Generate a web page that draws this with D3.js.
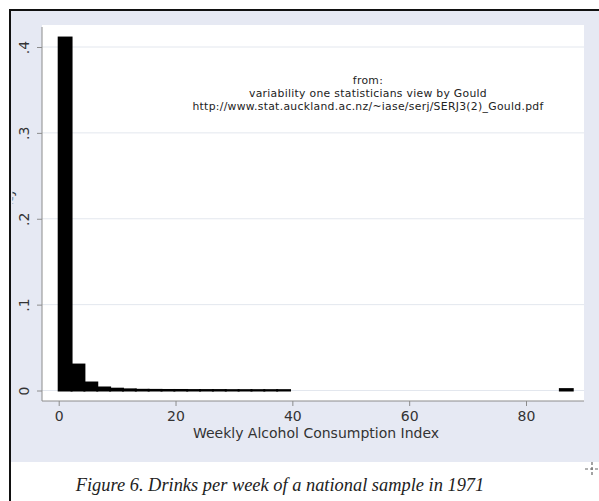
<!DOCTYPE html>
<html>
<head>
<meta charset="utf-8">
<script src="https://cdn.jsdelivr.net/npm/d3@7"></script>
<style>
  html, body { margin: 0; padding: 0; background: #ffffff; }
  svg { display: block; }
</style>
</head>
<body>
<script>
// ---- data ----
const binStarts = [0, 2.2, 4.4, 6.6, 8.8, 11.0, 13.2, 15.4, 17.6, 19.8, 22.0, 24.2, 26.4, 28.6, 30.8, 33.0, 35.2, 37.4, 85.8];
const binWidth = 2.2;
const densities = [0.411, 0.0302, 0.0093, 0.0035, 0.0021, 0.0013, 0.0008, 0.0007, 0.0006, 0.0006, 0.0005, 0.0005, 0.0005, 0.0004, 0.0004, 0.0004, 0.0004, 0.0004, 0.0016];
const xTicks = [0, 20, 40, 60, 80];
const yTicks = [0, 0.1, 0.2, 0.3, 0.4];
const yTickLabels = ["0", ".1", ".2", ".3", ".4"];
const xTitle = "Weekly Alcohol Consumption Index";
const yTitle = "Density";
const noteLines = ["from:", "variability one statisticians view by Gould", "http://www.stat.auckland.ac.nz/~iase/serj/SERJ3(2)_Gould.pdf"];
const caption = "Figure 6. Drinks per week of a national sample in 1971";

const W = 599, H = 501;
const svg = d3.select("body").append("svg").attr("width", W).attr("height", H);

// graph region background
svg.append("rect").attr("x", 11).attr("y", 11).attr("width", W - 11).attr("height", 451).attr("fill", "#e6e9f3");

// plot region
const plot = { left: 42, right: 584, top: 25, bottom: 401 };
svg.append("rect").attr("x", plot.left).attr("y", plot.top)
  .attr("width", plot.right - plot.left).attr("height", plot.bottom - plot.top)
  .attr("fill", "#ffffff");

const x = d3.scaleLinear().domain([0, 80]).range([58.7, 526]);
const y = d3.scaleLinear().domain([0, 0.4]).range([390.5, 47]);

// grid lines
svg.append("g").selectAll("line").data(yTicks).join("line")
  .attr("x1", plot.left).attr("x2", plot.right)
  .attr("y1", d => y(d)).attr("y2", d => y(d))
  .attr("stroke", "#e3e7ee").attr("stroke-width", 1);

// bars
svg.append("g").selectAll("rect").data(binStarts).join("rect")
  .attr("x", d => x(d))
  .attr("width", d => x(d + binWidth) - x(d))
  .attr("y", (d, i) => y(densities[i]))
  .attr("height", (d, i) => y(0) - y(densities[i]))
  .attr("fill", "#000").attr("stroke", "#000").attr("stroke-width", 2)
  .attr("stroke-linejoin", "miter");

// axes
const axisColor = "#8c8c8c";
const textColor = "#333333";
const font = "'DejaVu Sans', Verdana, sans-serif";

const yAxis = d3.axisLeft(y).tickValues(yTicks).tickSize(5).tickFormat((d, i) => yTickLabels[i]);
const gy = svg.append("g").attr("transform", `translate(${plot.left},0)`).call(yAxis);
gy.select(".domain").remove();
gy.selectAll(".tick line").attr("stroke", axisColor);
gy.selectAll(".tick text").attr("fill", textColor).style("font-family", font).style("font-size", "14px")
  .attr("x", null).attr("dy", null)
  .attr("transform", "translate(-18,0) rotate(-90)")
  .attr("text-anchor", "middle").attr("dominant-baseline", "central");
svg.append("line").attr("x1", plot.left).attr("x2", plot.left).attr("y1", plot.top + 2).attr("y2", plot.bottom)
  .attr("stroke", axisColor).attr("stroke-width", 1);

const xAxis = d3.axisBottom(x).tickValues(xTicks).tickSize(5).tickFormat(d3.format("d"));
const gx = svg.append("g").attr("transform", `translate(0,${plot.bottom})`).call(xAxis);
gx.select(".domain").remove();
gx.selectAll(".tick line").attr("stroke", axisColor);
gx.selectAll(".tick text").attr("fill", textColor).style("font-family", font).style("font-size", "14px")
  .attr("y", 10).attr("dy", "0.72em");
svg.append("line").attr("x1", plot.left).attr("x2", plot.right).attr("y1", plot.bottom).attr("y2", plot.bottom)
  .attr("stroke", axisColor).attr("stroke-width", 1);

// x title
svg.append("text").attr("x", 316).attr("y", 438).attr("text-anchor", "middle")
  .attr("fill", textColor).style("font-family", font).style("font-size", "14px").text(xTitle);

// y title (cut off by the frame, as in the picture)
svg.append("defs").append("clipPath").attr("id", "yclip")
  .append("rect").attr("x", 11).attr("y", 0).attr("width", 30).attr("height", H);
svg.append("text").attr("clip-path", "url(#yclip)")
  .attr("transform", "translate(12.5,215) rotate(-90)").attr("text-anchor", "middle")
  .attr("fill", textColor).style("font-family", font).style("font-size", "14px").text(yTitle);

// note
svg.append("g").selectAll("text").data(noteLines).join("text")
  .attr("x", 368).attr("y", (d, i) => 84 + i * 13).attr("text-anchor", "middle")
  .attr("fill", "#222").style("font-family", font).style("font-size", "10.8px")
  .style("letter-spacing", "0.3px").text(d => d);

// outer frame (top + left)
svg.append("line").attr("x1", 10).attr("x2", W).attr("y1", 10).attr("y2", 10).attr("stroke", "#111").attr("stroke-width", 2);
svg.append("line").attr("x1", 10).attr("x2", 10).attr("y1", 9).attr("y2", H).attr("stroke", "#111").attr("stroke-width", 2);

// small crosshair mark
const cross = svg.append("g").attr("stroke", "#666").attr("stroke-width", 1.2).attr("stroke-dasharray", "3,2");
cross.append("line").attr("x1", 585).attr("x2", 599).attr("y1", 469).attr("y2", 469);
cross.append("line").attr("x1", 592).attr("x2", 592).attr("y1", 462).attr("y2", 476);

// caption
svg.append("text").attr("x", 280).attr("y", 491).attr("text-anchor", "middle")
  .attr("fill", "#222").style("font-family", "'Liberation Serif', 'Times New Roman', serif")
  .style("font-style", "italic").style("font-size", "18.4px").text(caption);
</script>
</body>
</html>
